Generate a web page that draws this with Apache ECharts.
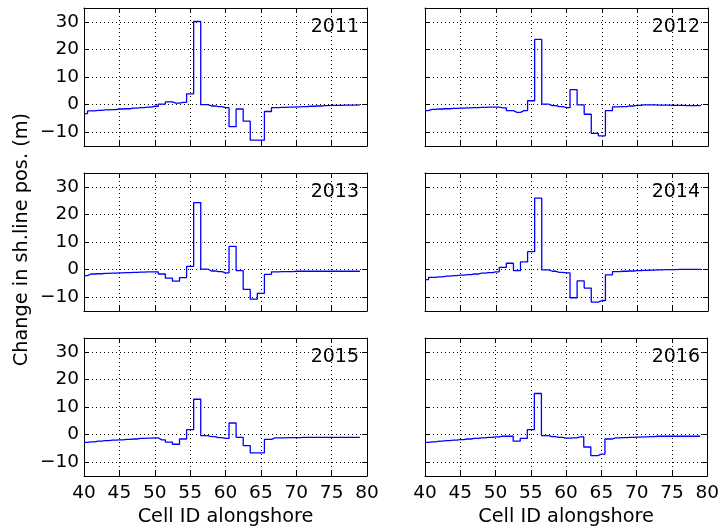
<!DOCTYPE html>
<html>
<head>
<meta charset="utf-8">
<script src="https://cdn.jsdelivr.net/npm/echarts@6/dist/echarts.min.js"></script>
<style>
  html, body { margin: 0; padding: 0; background: #fff; }
  #main { width: 722px; height: 532px; }
</style>
</head>
<body>
<div id="main"></div>
<script>
// cell IDs alongshore
const cellIds = [40, 41, 42, 43, 44, 45, 46, 47, 48, 49,
                 50, 51, 52, 53, 54, 55, 56, 57, 58, 59,
                 60, 61, 62, 63, 64, 65, 66, 67, 68, 69,
                 70, 71, 72, 73, 74, 75, 76, 77, 78, 79];

const years = ['2011', '2012', '2013', '2014', '2015', '2016'];

// change in shoreline position (m), one value per cell
const y2011 = [-3.3, -2.3, -2.1, -1.9, -1.8, -1.6, -1.5, -1.3, -1.1, -0.9,
               -0.6, 0.2, 1.0, 0.5, 0.8, 3.9, 30.1, 0.0, -0.5, -0.7,
               -1.1, -8.0, -1.6, -6.0, -12.9, -12.9, -2.5, -1.1, -1.0, -0.9,
               -0.8, -0.7, -0.6, -0.5, -0.4, -0.3, -0.3, -0.2, -0.2, -0.1];
const y2012 = [-2.2, -1.7, -1.6, -1.5, -1.4, -1.3, -1.2, -1.1, -1.0, -0.9,
               -0.9, -1.2, -2.2, -2.8, -2.2, 1.4, 23.6, 0.2, -0.4, -0.7,
               -1.1, 5.4, -0.1, -3.5, -10.4, -11.3, -2.2, -0.8, -0.7, -0.5,
               -0.3, -0.1, -0.1, -0.2, -0.2, -0.3, -0.3, -0.4, -0.4, -0.4];
const y2013 = [-2.2, -1.6, -1.5, -1.4, -1.3, -1.2, -1.1, -1.0, -0.9, -0.8,
               -0.8, -1.6, -3.1, -4.2, -2.9, 1.2, 24.3, 0.2, -0.5, -0.7,
               -1.2, 8.4, -0.4, -7.2, -10.7, -8.6, -1.7, -0.8, -0.7, -0.7,
               -0.6, -0.6, -0.6, -0.6, -0.6, -0.6, -0.6, -0.6, -0.6, -0.6];
const y2014 = [-3.6, -2.8, -2.6, -2.4, -2.2, -2.0, -1.8, -1.6, -1.3, -1.1,
               -0.8, 0.8, 2.3, -0.4, 2.8, 6.5, 25.9, -0.1, -0.6, -1.0,
               -1.2, -10.2, -4.1, -6.7, -11.8, -11.2, -1.9, -0.7, -0.6, -0.5,
               -0.4, -0.3, -0.2, -0.1, 0.0, 0.0, 0.1, 0.1, 0.1, 0.1];
const y2015 = [-2.8, -2.6, -2.4, -2.2, -2.0, -1.9, -1.7, -1.6, -1.4, -1.3,
               -1.2, -1.9, -2.7, -3.5, -1.6, 1.8, 12.8, -0.4, -0.7, -1.1,
               -1.4, 4.2, -1.0, -4.0, -6.6, -6.6, -1.7, -1.2, -1.2, -1.1,
               -1.1, -1.0, -1.0, -1.0, -1.0, -1.0, -1.0, -1.0, -1.0, -1.0];
const y2016 = [-2.8, -2.6, -2.4, -2.2, -2.0, -1.8, -1.6, -1.4, -1.2, -1.0,
               -0.8, -0.6, -0.6, -2.4, -1.4, 1.8, 14.9, -0.4, -0.7, -1.0,
               -1.3, -1.2, -0.8, -4.5, -7.6, -7.1, -1.6, -1.2, -1.1, -1.0,
               -0.9, -0.8, -0.7, -0.6, -0.6, -0.6, -0.6, -0.6, -0.6, -0.6];

const yearSeries = [y2011, y2012, y2013, y2014, y2015, y2016];

// axis ticks
const xTicks = [40, 45, 50, 55, 60, 65, 70, 75, 80];
const yTicks = [-10, 0, 10, 20, 30];

const FONT = 'DejaVu Sans';
const colLeft = [84, 425];
const rowTop = [8, 173, 338];
const plotW = 283;
const plotH = 138;

const chart = echarts.init(document.getElementById('main'), null, { renderer: 'canvas' });

const grids = [], xAxes = [], yAxes = [], series = [], texts = [];

const minus = v => String(v).replace('-', '\u2212');
const dotted = { show: true, lineStyle: { color: '#000', width: 1, type: [1, 3] } };
const border = { show: true, onZero: false, lineStyle: { color: '#000', width: 1 } };
const tick = { show: true, inside: true, length: 5, lineStyle: { color: '#000', width: 1 } };

years.forEach((yr, i) => {
    const col = i % 2, row = Math.floor(i / 2);
    const bottomRow = row === 2, leftCol = col === 0;
    grids.push({ left: colLeft[col], top: rowTop[row], width: plotW, height: plotH });

    // bottom + top x axes
    xAxes.push({
        type: 'value', gridIndex: i, position: 'bottom',
        min: 40, max: 80, interval: 5,
        axisLine: border, axisTick: tick, splitLine: dotted,
        axisLabel: {
            show: bottomRow, margin: 8, color: '#000',
            fontFamily: FONT, fontSize: 18.5
        },
        name: bottomRow ? 'Cell ID alongshore' : '',
        nameLocation: 'middle', nameGap: 31,
        nameTextStyle: { color: '#000', fontFamily: FONT, fontSize: 19.3 }
    });
    xAxes.push({
        type: 'value', gridIndex: i, position: 'top',
        min: 40, max: 80, interval: 5,
        axisLine: border, axisTick: tick, splitLine: { show: false },
        axisLabel: { show: false }
    });

    // left + right y axes
    yAxes.push({
        type: 'value', gridIndex: i, position: 'left',
        min: -15, max: 35,
        axisLine: border,
        axisTick: Object.assign({ customValues: yTicks }, tick),
        splitLine: dotted,
        axisLabel: {
            show: leftCol, customValues: yTicks, margin: 5, color: '#000',
            fontFamily: FONT, fontSize: 18.5, formatter: minus
        }
    });
    yAxes.push({
        type: 'value', gridIndex: i, position: 'right',
        min: -15, max: 35,
        axisLine: border,
        axisTick: Object.assign({ customValues: yTicks }, tick),
        splitLine: { show: false },
        axisLabel: { show: false, customValues: yTicks }
    });

    series.push({
        type: 'line', name: yr,
        xAxisIndex: i * 2, yAxisIndex: i * 2,
        step: 'middle', showSymbol: false, symbol: 'none',
        lineStyle: { color: '#0000ff', width: 1.3 },
        data: cellIds.map((c, k) => [c, yearSeries[i][k]]),
        animation: false, z: 5
    });

    texts.push({
        type: 'text', right: 722 - (colLeft[col] + plotW - 8), top: rowTop[row] + 10,
        style: { text: yr, fill: '#000', font: '19px "' + FONT + '"' }
    });
});

texts.push({
    type: 'text', left: 12, top: 113, rotation: Math.PI / 2,
    originX: 0, originY: 0,
    style: { text: 'Change in sh.line pos. (m)', fill: '#000', font: '19.3px "' + FONT + '"' }
});

chart.setOption({
    animation: false,
    backgroundColor: '#fff',
    grid: grids,
    xAxis: xAxes,
    yAxis: yAxes,
    series: series,
    graphic: texts
});
</script>
</body>
</html>
